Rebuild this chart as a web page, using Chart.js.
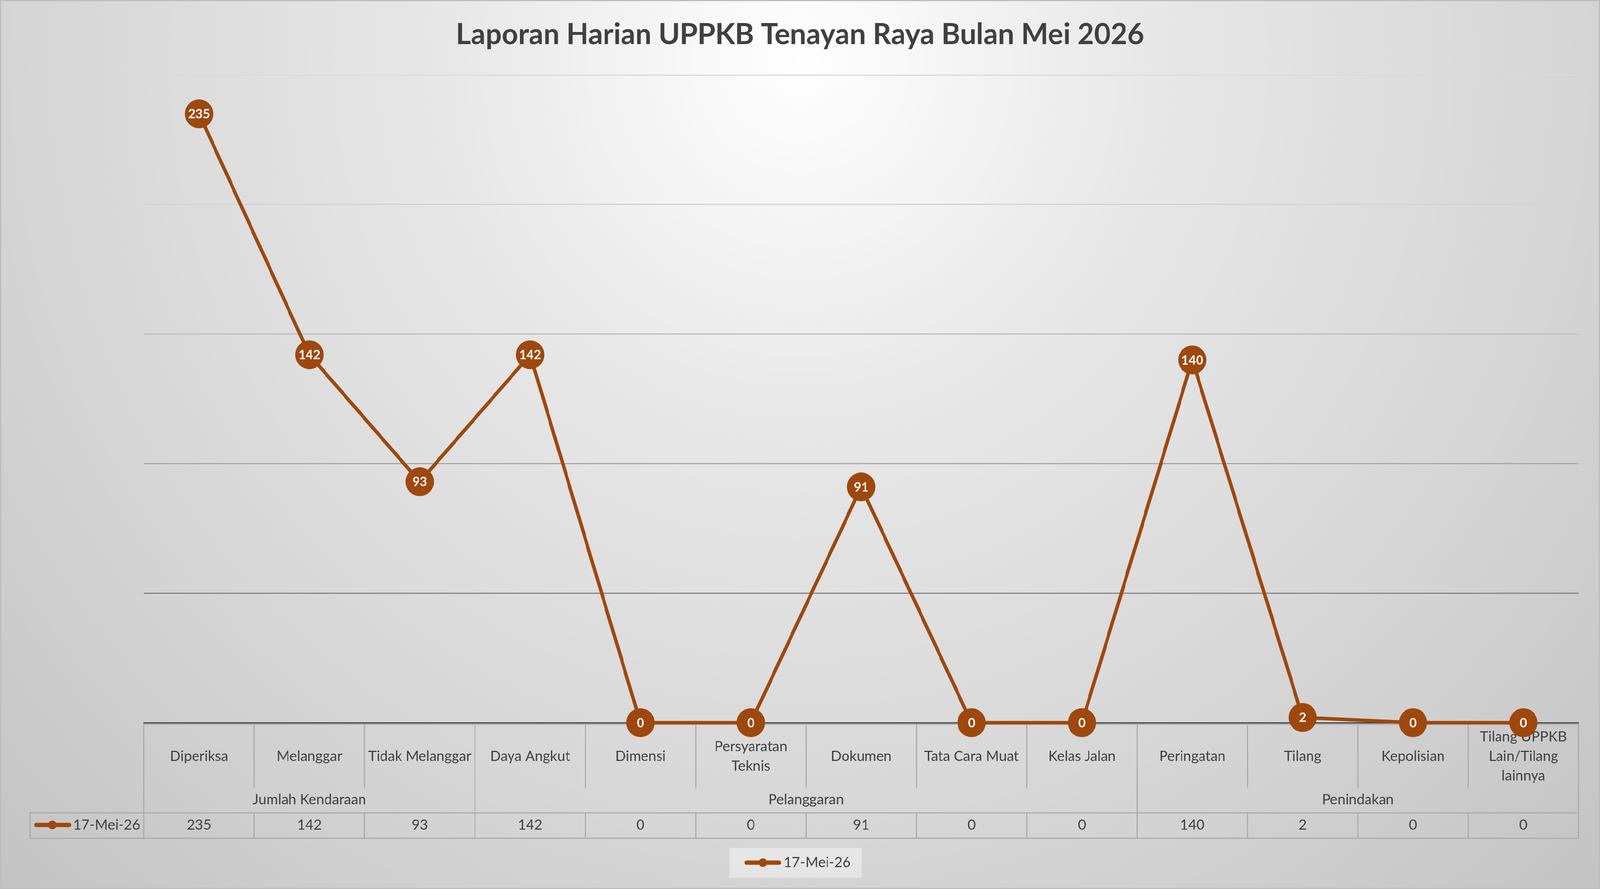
<!DOCTYPE html>
<html>
<head>
<meta charset="utf-8">
<title>Laporan Harian UPPKB</title>
<script src="https://cdn.jsdelivr.net/npm/chart.js@4.4.1/dist/chart.umd.min.js"></script>
<style>
  html, body { margin: 0; padding: 0; overflow: hidden; }
  #wrap {
    width: 4182px; height: 2277px; position: relative;
    transform-origin: 0 0;
    background: radial-gradient(circle at 50% 7%, #ffffff 0px, #e8e8e8 900px, #d6d6d6 2000px, #c3c3c3 3000px);
    box-shadow: inset 0 0 0 3px #bdbdbd;
  }
</style>
</head>
<body>
<div id="wrap"><canvas id="chart"></canvas></div>
<script>
// data
const categories = ['Diperiksa', 'Melanggar', 'Tidak Melanggar', 'Daya Angkut', 'Dimensi',
  ['Persyaratan', 'Teknis'], 'Dokumen', 'Tata Cara Muat', 'Kelas Jalan', 'Peringatan',
  'Tilang', 'Kepolisian', ['Tilang UPPKB', 'Lain/Tilang', 'lainnya']];
const seriesName = '17-Mei-26';
const values = [235, 142, 93, 142, 0, 0, 91, 0, 0, 140, 2, 0, 0];
const groupNames = ['Jumlah Kendaraan', 'Pelanggaran', 'Penindakan'];
const groupSpans = [3, 6, 4];
const yTicks = [0, 50, 100, 150, 200, 250];

// the chart is laid out at 4182x2277 and squeezed to fit the window
const wrap = document.getElementById('wrap');
wrap.style.transform = 'scale(' + (window.innerWidth / 4182) + ',' + (window.innerHeight / 2277) + ')';

const FONT = 'Lato, "Noto Sans", sans-serif';
const TEXT = '#404040';
const ORANGE = '#9e480e';
const TABLE_LINE = '#ababab';
// gridlines get darker toward the axis
const gridShade = { 0: 'rgba(0,0,0,0)', 50: '#858585', 100: '#a6a6a6', 150: '#bdbdbd', 200: '#d2d2d2', 250: '#dadada' };

// legend icon: line with a dot
const legendIcon = document.createElement('canvas');
legendIcon.width = 97;
legendIcon.height = 24;
(function () {
  const c = legendIcon.getContext('2d');
  c.strokeStyle = ORANGE;
  c.lineWidth = 11;
  c.lineCap = 'round';
  c.beginPath(); c.moveTo(6, 12); c.lineTo(91, 12); c.stroke();
  c.fillStyle = ORANGE;
  c.beginPath(); c.arc(48.5, 12, 11, 0, Math.PI * 2); c.fill();
})();

const legendBox = {
  id: 'legendBox',
  beforeDraw(chart) {
    const hb = chart.legend && chart.legend.legendHitBoxes[0];
    if (!hb) return;
    const ctx = chart.ctx;
    const cy = hb.top + hb.height / 2;
    ctx.save();
    ctx.fillStyle = 'rgba(235,235,235,0.75)';
    ctx.fillRect(hb.left - 52, cy - 38, hb.width + 80, 77);
    ctx.restore();
  }
};

// data table under the axis
const dataTable = {
  id: 'dataTable',
  beforeDatasetsDraw(chart) {
    const ctx = chart.ctx;
    const xs = chart.scales.x;
    const n = categories.length;
    const half = (xs.getPixelForValue(1) - xs.getPixelForValue(0)) / 2;
    const left = xs.getPixelForValue(0) - half;
    const right = xs.getPixelForValue(n - 1) + half;
    const top = xs.top + 4;
    const catBottom = xs.top + 167;
    const valTop = xs.top + 231;
    const valBottom = xs.top + 296;
    const seriesLeft = 79;

    ctx.save();
    ctx.strokeStyle = TABLE_LINE;
    ctx.lineWidth = 3;
    const line = (x1, y1, x2, y2) => { ctx.beginPath(); ctx.moveTo(x1, y1); ctx.lineTo(x2, y2); ctx.stroke(); };

    line(left, top, right, top);
    line(seriesLeft, valTop, right, valTop);
    line(seriesLeft, valBottom, right, valBottom);
    line(seriesLeft, valTop, seriesLeft, valBottom);

    const bounds = [0];
    groupSpans.reduce((a, s) => { bounds.push(a + s); return a + s; }, 0);
    for (let k = 0; k <= n; k++) {
      const x = k < n ? xs.getPixelForValue(k) - half : right;
      if (bounds.includes(k)) {
        line(x, top, x, valBottom);
      } else {
        line(x, top, x, catBottom);
        line(x, valTop, x, valBottom);
      }
    }

    ctx.fillStyle = TEXT;
    ctx.font = '37px ' + FONT;
    ctx.textAlign = 'center';
    ctx.textBaseline = 'middle';
    let start = 0;
    groupNames.forEach((g, gi) => {
      const a = xs.getPixelForValue(start);
      const b = xs.getPixelForValue(start + groupSpans[gi] - 1);
      ctx.fillText(g, (a + b) / 2, xs.top + 197);
      start += groupSpans[gi];
    });
    const vy = xs.top + 262;
    values.forEach((v, i) => ctx.fillText(String(v), xs.getPixelForValue(i), vy));

    // series key in the first cell
    ctx.strokeStyle = ORANGE;
    ctx.lineWidth = 11;
    ctx.lineCap = 'round';
    line(95, vy, 181, vy);
    ctx.fillStyle = ORANGE;
    ctx.beginPath(); ctx.arc(137, vy, 11, 0, Math.PI * 2); ctx.fill();
    ctx.fillStyle = TEXT;
    ctx.textAlign = 'left';
    ctx.fillText(seriesName, 191, vy);
    ctx.restore();
  }
};

const pointLabels = {
  id: 'pointLabels',
  afterDatasetsDraw(chart) {
    const ctx = chart.ctx;
    const meta = chart.getDatasetMeta(0);
    ctx.save();
    ctx.font = 'bold 33px ' + FONT;
    ctx.fillStyle = '#ffffff';
    ctx.textAlign = 'center';
    ctx.textBaseline = 'middle';
    meta.data.forEach((pt, i) => ctx.fillText(String(values[i]), pt.x, pt.y + 1));
    ctx.restore();
  }
};

new Chart(document.getElementById('chart'), {
  type: 'line',
  data: {
    labels: categories,
    datasets: [{
      label: seriesName,
      data: values,
      borderColor: ORANGE,
      backgroundColor: ORANGE,
      borderWidth: 9,
      pointRadius: 37,
      pointHoverRadius: 37,
      pointBackgroundColor: ORANGE,
      pointBorderWidth: 0,
      tension: 0,
      clip: false
    }]
  },
  options: {
    responsive: true,
    maintainAspectRatio: false,
    animation: false,
    devicePixelRatio: 1,
    layout: { padding: { left: 0, right: 0, top: 0, bottom: 39 } },
    plugins: {
      title: {
        display: true,
        text: 'Laporan Harian UPPKB Tenayan Raya Bulan Mei 2026',
        color: TEXT,
        font: { family: FONT, size: 75, weight: 'bold', lineHeight: 1.2 },
        padding: { top: 44, bottom: 58 }
      },
      legend: {
        position: 'bottom',
        labels: {
          usePointStyle: true,
          pointStyle: legendIcon,
          pointStyleWidth: 71,
          padding: 20,
          color: TEXT,
          font: { family: FONT, size: 37 }
        }
      },
      tooltip: { enabled: false }
    },
    scales: {
      x: {
        offset: true,
        grid: { display: false, drawTicks: false },
        border: { display: true, color: TEXT, width: 3 },
        ticks: {
          autoSkip: false, maxRotation: 0, minRotation: 0,
          crossAlign: 'center',
          padding: 36,
          color: TEXT,
          font: { family: FONT, size: 37, lineHeight: 1.35 }
        },
        afterFit(s) { s.height = 320; }
      },
      y: {
        min: yTicks[0],
        max: yTicks[yTicks.length - 1],
        ticks: { display: false, stepSize: yTicks[1] - yTicks[0] },
        grid: { drawTicks: false, lineWidth: 3, color: c => gridShade[c.tick.value] || '#d0d0d0' },
        border: { display: false },
        afterFit(s) { s.width = 376; }
      },
      yRight: {
        position: 'right',
        ticks: { display: false },
        grid: { display: false, drawTicks: false },
        border: { display: false },
        afterFit(s) { s.width = 56; }
      }
    }
  },
  plugins: [legendBox, dataTable, pointLabels]
});
</script>
</body>
</html>
